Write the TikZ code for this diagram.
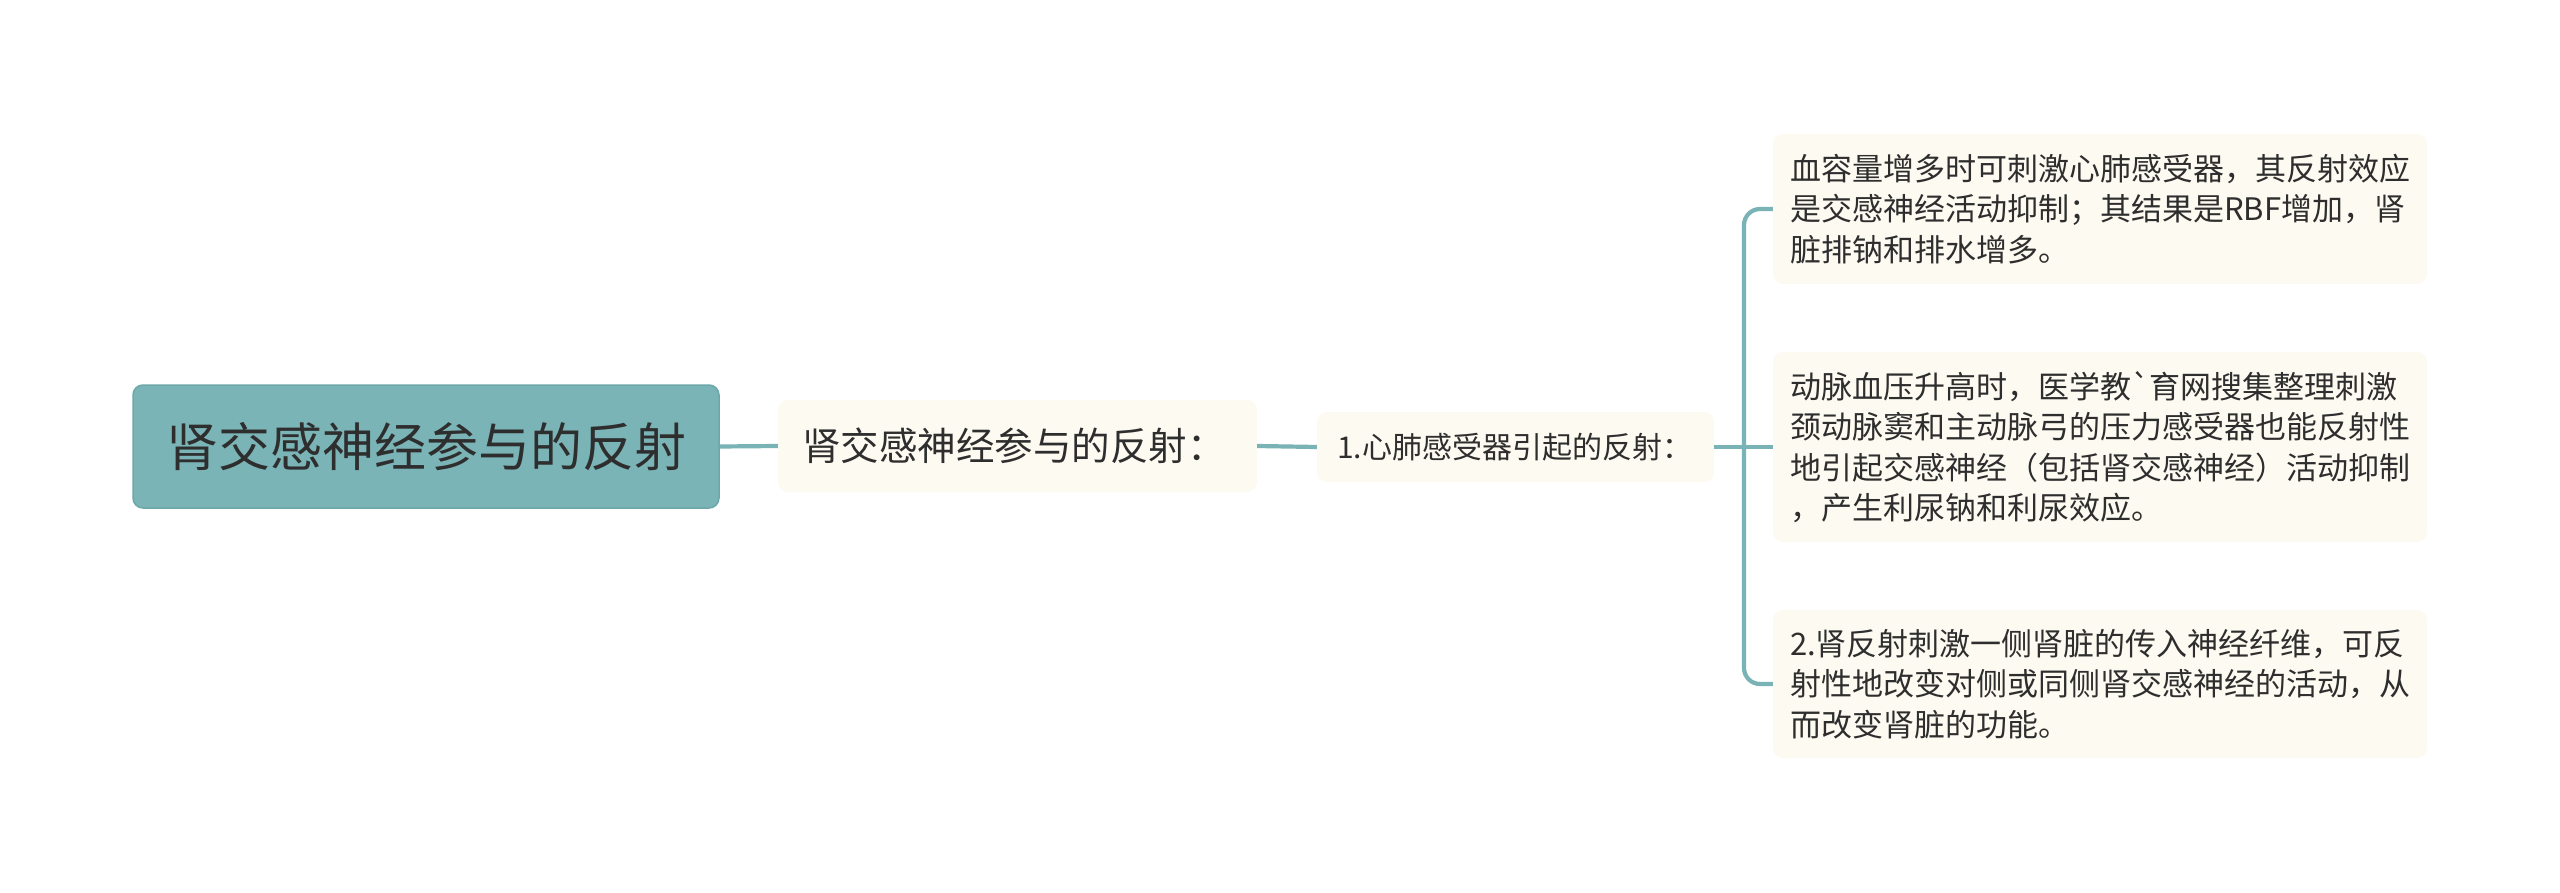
\documentclass[tikz,border=0pt]{standalone}
\usepackage{fontspec}
\newfontfamily\cjk{Noto Sans CJK SC}
\definecolor{rootfill}{HTML}{7BB4B6}
\definecolor{rootedge}{HTML}{6CA7A9}
\definecolor{cream}{HTML}{FCFAF1}
\definecolor{linec}{HTML}{7AB3B5}
\definecolor{textc}{HTML}{2E2E2E}
\begin{document}
\begin{tikzpicture}[x=1pt,y=-1pt,
  rootbox/.style={draw=rootedge, line width=1.5pt, fill=rootfill, rounded corners=10pt,
    inner sep=0pt, minimum width=586pt, minimum height=123pt,
    font=\cjk\fontsize{52}{60}\selectfont, text=textc},
  subbox/.style={fill=cream, rounded corners=10pt, inner ysep=0pt, align=left, text=textc},
  lonebox/.style={subbox, text width=431pt, inner xsep=24pt, minimum height=92pt,
    font=\cjk\fontsize{38.5}{46}\selectfont},
  ltwobox/.style={subbox, text width=357pt, inner xsep=20pt, minimum height=70pt,
    font=\cjk\fontsize{30}{38}\selectfont},
  leafbox/.style={subbox, text width=620pt, inner xsep=17pt,
    font=\cjk\fontsize{31}{40.5}\selectfont},
  link/.style={draw=linec, line width=4.2pt}
]
\useasboundingbox (0,0) rectangle (2560,893);
\fill[white] (0,0) rectangle (2560,893);

\node[rootbox] (root) at (426,446.5) {肾交感神经参与的反射};
\node[lonebox] (l1) at (1017.5,446) {肾交感神经参与的反射：};
\node[ltwobox] (l2) at (1515.5,447) {1.心肺感受器引起的反射：};

\node[leafbox, minimum height=150pt] (f1) at (2100,209)
  {血容量增多时可刺激心肺感受器，其反射效应\\是交感神经活动抑制；其结果是RBF增加，肾\\脏排钠和排水增多。};
\node[leafbox, minimum height=190pt] (f2) at (2100,447)
  {动脉血压升高时，医学教`育网搜集整理刺激\\颈动脉窦和主动脉弓的压力感受器也能反射性\\地引起交感神经（包括肾交感神经）活动抑制\\，产生利尿钠和利尿效应。};
\node[leafbox, minimum height=148pt] (f3) at (2100,684)
  {2.肾反射刺激一侧肾脏的传入神经纤维，可反\\射性地改变对侧或同侧肾交感神经的活动，从\\而改变肾脏的功能。};

\coordinate (bx) at (1744,447);

\draw[link] (root.east) -- (l1.west);
\draw[link] (l1.east) -- (l2.west);
\draw[link] (l2.east) -- (f2.west);
\draw[link, rounded corners=16pt] (f1.west) -| (bx) |- (f3.west);
\end{tikzpicture}
\end{document}
